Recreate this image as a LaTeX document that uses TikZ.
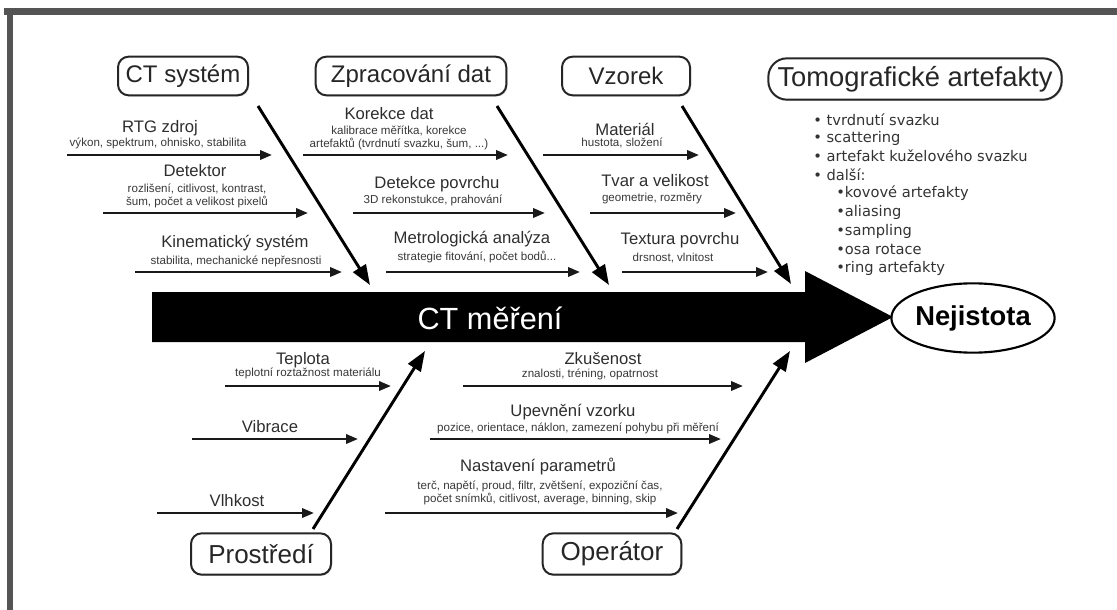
\documentclass[tikz,border=0pt]{standalone}
\usepackage{fontspec}
\setmainfont{Liberation Sans}
\newfontfamily\dejavu{DejaVu Sans}
\usetikzlibrary{shapes.geometric,arrows.meta,shadows}
\begin{document}
\begin{tikzpicture}[x=0.75pt,y=-0.75pt,
  catbox/.style={draw=black!85, line width=1.5pt, rounded corners=8pt, fill=white,
    inner sep=0pt, minimum height=29pt, text=black!85,
    font=\fontsize{18}{20}\selectfont,
    drop shadow={shadow xshift=0.9pt,shadow yshift=-0.9pt,fill=black!30}},
  ttl/.style={inner sep=0pt, text=black!82, font=\fontsize{12.5}{14}\selectfont},
  sub/.style={inner sep=0pt, text=black!78, align=center, font=\fontsize{8.7}{10.2}\selectfont},
  lst/.style={inner sep=0pt, anchor=west, text=black!80, font=\dejavu\fontsize{11}{13}\selectfont},
  harrow/.style={draw=black!90, line width=1.8pt, -{Triangle[length=9pt,width=7pt]}},
  darrow/.style={draw=black, line width=2.2pt, -{Triangle[length=15pt,width=11pt]}}
]
\useasboundingbox (0,0) rectangle (1117,610);
% frame
\fill[black!67] (4,8) rectangle (1117,15);
\fill[black!67] (7,8) rectangle (13,610);

% spine
\fill[black] (152,292) -- (805,292) -- (805,271) -- (893,317) -- (805,363) -- (805,342) -- (152,342) -- cycle;
\node[inner sep=0pt, text=white, font=\fontsize{23}{26}\selectfont] (spine) at (490,318) {CT měření};
\node[draw=black, line width=1.6pt, ellipse, minimum width=111pt, minimum height=52pt, inner sep=0pt,
  font=\bfseries\fontsize{20.5}{22}\selectfont] (nej) at (973,318) {Nejistota};

% category boxes
\node[catbox, minimum width=97.5pt] (cts) at (183,76) {CT systém};
\node[catbox, minimum width=143pt] (zpr) at (411,76) {Zpracování dat};
\node[catbox, minimum width=96pt] (vzo) at (626,76) {Vzorek};
\node[catbox, minimum width=220pt, minimum height=31pt, rounded corners=14pt, font=\fontsize{20.5}{22}\selectfont] (tom) at (915,79) {Tomografické artefakty};
\node[catbox, minimum width=105pt, minimum height=31pt, font=\fontsize{19.5}{22}\selectfont] (pro) at (261,554) {Prostředí};
\node[catbox, minimum width=104pt, minimum height=31pt, font=\fontsize{19.5}{22}\selectfont] (ope) at (612,554) {Operátor};

% diagonal bones
\coordinate (ctsA) at (258,106); \coordinate (ctsB) at (370,285);
\coordinate (zprA) at (497,106); \coordinate (zprB) at (609,285);
\coordinate (vzoA) at (682,106); \coordinate (vzoB) at (791,284);
\coordinate (proA) at (313,529); \coordinate (proB) at (425,351);
\coordinate (opeA) at (677,529); \coordinate (opeB) at (790,351);
\draw[darrow] (ctsA) -- (ctsB);
\draw[darrow] (zprA) -- (zprB);
\draw[darrow] (vzoA) -- (vzoB);
\draw[darrow] (proA) -- (proB);
\draw[darrow] (opeA) -- (opeB);

% CT system causes
\node[ttl] (t1) at (160,128) {RTG zdroj};
\node[sub] (s1) at (158,143) {výkon, spektrum, ohnisko, stabilita};
\coordinate (a1) at (67,155); \coordinate (b1) at (272,155);
\draw[harrow] (a1) -- (b1);
\node[ttl] (t2) at (195,171) {Detektor};
\node[sub] (s2) at (197,196) {rozlišení, citlivost, kontrast,\\šum, počet a velikost pixelů};
\coordinate (a2) at (103,213); \coordinate (b2) at (308,213);
\draw[harrow] (a2) -- (b2);
\node[ttl] (t3) at (235,243) {Kinematický systém};
\node[sub] (s3) at (236,261) {stabilita, mechanické nepřesnosti};
\coordinate (a3) at (135,272); \coordinate (b3) at (342,272);
\draw[harrow] (a3) -- (b3);

% Zpracovani dat causes
\node[ttl] (t4) at (389,114) {Korekce dat};
\node[sub] (s4) at (399,138) {kalibrace měřítka, korekce\\artefaktů (tvrdnutí svazku, šum, ...)};
\coordinate (a4) at (303,155); \coordinate (b4) at (508,155);
\draw[harrow] (a4) -- (b4);
\node[ttl] (t5) at (437,184) {Detekce povrchu};
\node[sub] (s5) at (433,200) {3D rekonstukce, prahování};
\coordinate (a5) at (353,213); \coordinate (b5) at (545,213);
\draw[harrow] (a5) -- (b5);
\node[ttl] (t6) at (472,239) {Metrologická analýza};
\node[sub] (s6) at (477,257) {strategie fitování, počet bodů...};
\coordinate (a6) at (386,272); \coordinate (b6) at (580,272);
\draw[harrow] (a6) -- (b6);

% Vzorek causes
\node[ttl] (t7) at (625,129) {Materiál};
\node[sub] (s7) at (622,143) {hustota, složení};
\coordinate (a7) at (543,155); \coordinate (b7) at (699,155);
\draw[harrow] (a7) -- (b7);
\node[ttl] (t8) at (655,181) {Tvar a velikost};
\node[sub] (s8) at (652,198) {geometrie, rozměry};
\coordinate (a8) at (590,213); \coordinate (b8) at (736,213);
\draw[harrow] (a8) -- (b8);
\node[ttl] (t9) at (680,240) {Textura povrchu};
\node[sub] (s9) at (673,258) {drsnost, vlnitost};
\coordinate (a9) at (622,272); \coordinate (b9) at (768,272);
\draw[harrow] (a9) -- (b9);

% Prostredi causes
\node[ttl] (t10) at (303,360) {Teplota};
\node[sub] (s10) at (308,373) {teplotní roztažnost materiálu};
\coordinate (a10) at (225,386); \coordinate (b10) at (391,386);
\draw[harrow] (a10) -- (b10);
\node[ttl] (t11) at (270,427) {Vibrace};
\coordinate (a11) at (192,439); \coordinate (b11) at (358,439);
\draw[harrow] (a11) -- (b11);
\node[ttl] (t12) at (237,501) {Vlhkost};
\coordinate (a12) at (157,513); \coordinate (b12) at (314,513);
\draw[harrow] (a12) -- (b12);

% Operator causes
\node[ttl] (t13) at (603,359) {Zkušenost};
\node[sub] (s13) at (590,374) {znalosti, tréning, opatrnost};
\coordinate (a13) at (463,386); \coordinate (b13) at (743,386);
\draw[harrow] (a13) -- (b13);
\node[ttl] (t14) at (573,412) {Upevnění vzorku};
\node[sub] (s14) at (578,428) {pozice, orientace, náklon, zamezení pohybu při měření};
\coordinate (a14) at (430,439); \coordinate (b14) at (721,439);
\draw[harrow] (a14) -- (b14);
\node[ttl] (t15) at (538,467) {Nastavení parametrů};
\node[sub] (s15) at (540,493) {terč, napětí, proud, filtr, zvětšení, expoziční čas,\\počet snímků, citlivost, average, binning, skip};
\coordinate (a15) at (385,513); \coordinate (b15) at (678,513);
\draw[harrow] (a15) -- (b15);

% artefact list
\node[lst] (l1) at (813,120) {• tvrdnutí svazku};
\node[lst] (l2) at (813,138) {• scattering};
\node[lst] (l3) at (813,156) {• artefakt kuželového svazku};
\node[lst] (l4) at (813,175) {• další:};
\node[lst] (l5) at (836,193) {•kovové artefakty};
\node[lst] (l6) at (836,212) {•aliasing};
\node[lst] (l7) at (836,231) {•sampling};
\node[lst] (l8) at (836,249) {•osa rotace};
\node[lst] (l9) at (836,268) {•ring artefakty};
\end{tikzpicture}
\end{document}
